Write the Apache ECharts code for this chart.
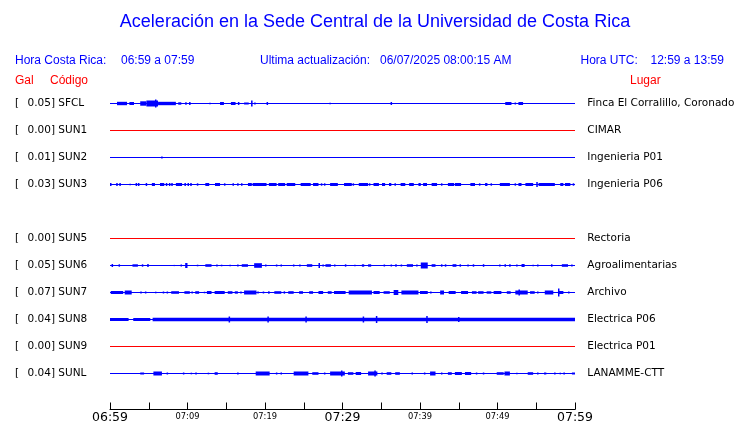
<!DOCTYPE html>
<html><head><meta charset="utf-8">
<script src="https://cdn.jsdelivr.net/npm/echarts@6/dist/echarts.min.js"></script>
<style>html,body{margin:0;padding:0;background:#fff}#c{width:740px;height:423px}</style>
</head><body><div id="c"></div>
<script>
// ---- data ----
const codes   = ['SFCL','SUN1','SUN2','SUN3','SUN5','SUN6','SUN7','SUN8','SUN9','SUNL'];
const places  = ['Finca El Corralillo, Coronado','CIMAR','Ingenieria P01','Ingenieria P06','Rectoria',
                 'Agroalimentarias','Archivo','Electrica P06','Electrica P01','LANAMME-CTT'];
const galPeak = [0.05,0.00,0.01,0.03,0.00,0.05,0.07,0.04,0.00,0.04];
const rowSlot = [0,1,2,3,5,6,7,8,9,10];           // SUN4 slot empty
const tickLabels = ['06:59','07:04','07:09','07:14','07:19','07:24','07:29','07:34','07:39','07:44','07:49','07:54','07:59'];
// minutes since 06:59 : [start, end, half-amplitude (trace units)]
const evSFCL = [[0.9,2.2,1.7],[2.5,3.1,1.5],[3.9,4.7,2.2],[4.7,6.2,3],[5.9,5.9,4],[6.2,8.5,1.7],[8.8,9.2,1.2],[9.7,9.9,1.2],[10.3,10.3,1.5],[12.9,12.9,0.7],[14.2,14.7,1.5],[15.6,16.2,1.5],[16.6,16.6,1.5],[17.3,17.9,1],[18.2,18.4,3],[18.7,18.7,1],[20.3,20.3,1.5],[28.4,28.4,0.7],[36.3,36.3,1.5],[51.0,51.8,1.5],[52.3,52.3,1],[52.7,53.3,1.5]];
const evSUN1 = [];
const evSUN2 = [[6.7,6.7,1]];
const evSUN3 = [[0.1,0.1,1.5],[0.9,0.9,1.5],[1.3,1.3,1.5],[2.6,2.6,0.8],[3.4,3.4,1.5],[3.7,3.7,1.5],[4.7,4.7,1.5],[5.4,5.8,1.5],[6.45,7.0,1.5],[7.3,7.3,1.5],[7.7,7.7,1.5],[8.0,8.0,1.5],[8.5,9.3,1.5],[9.7,9.7,1.5],[10.1,10.1,1.5],[10.45,10.45,1.5],[11.3,11.3,1.2],[12.3,12.8,1.5],[13.55,14.2,1.5],[14.8,14.8,1.2],[15.9,15.9,1.2],[16.5,16.5,1.2],[17.0,17.0,1.2],[17.8,18.3,1.5],[18.4,20.2,1.5],[20.5,21.5,1.5],[21.7,22.6,1.5],[22.8,23.9,1.5],[24.6,25.9,1.5],[26.2,26.9,1.5],[27.3,27.3,1.2],[27.7,27.7,1.2],[28.4,29.4,1.5],[30.2,31.2,1.5],[31.4,31.4,1.2],[32.1,33.3,1.5],[33.5,33.5,1.2],[34.0,34.7,1.5],[35.1,35.5,1.5],[36.0,36.3,1.5],[36.8,36.8,1.2],[37.5,38.1,1.5],[38.6,39.2,1.5],[39.8,40.1,1.5],[40.4,40.9,1.5],[41.5,42.2,1.5],[42.8,42.8,1.2],[43.6,44.4,1.5],[44.5,45.3,1.5],[46.5,47.1,1.5],[47.7,47.7,1.2],[48.4,48.7,1.5],[49.2,49.2,1.2],[50.3,51.6,1.5],[52.3,52.3,1.2],[52.7,53.1,1.5],[53.6,54.6,1.5],[55.1,55.1,2.5],[55.3,57.4,1.5],[58.1,58.5,1.5],[58.7,59.4,1.5],[59.8,59.8,1.2]];
const evSUN5 = [];
const evSUN6 = [[0.3,0.3,1.5],[1.2,1.2,1.2],[2.9,3.6,1.2],[4.2,4.2,1.2],[4.9,4.9,1.5],[8.3,8.3,0.6],[9.2,9.2,1],[9.7,10.0,2.5],[11.3,11.3,0.8],[12.3,13.1,1.3],[13.8,13.8,1],[14.4,14.4,0.8],[15.5,15.5,0.8],[16.5,16.5,1],[17.0,17.8,1.3],[18.6,19.6,2.3],[20.1,20.1,1],[21.5,21.5,1],[22.1,22.1,1],[23.7,23.7,1],[24.5,24.5,1],[25.4,26.1,1.3],[27.0,27.0,2.5],[27.5,27.5,1],[27.8,28.5,1.3],[29.0,29.0,1],[30.4,30.4,1.2],[31.6,31.6,0.8],[32.5,32.8,1.2],[33.3,33.7,1.2],[35.4,35.4,1],[36.3,36.3,1],[36.9,36.9,1.2],[37.6,37.6,1],[38.3,39.1,1.3],[39.6,39.6,1],[40.1,41.0,3],[41.5,42.0,1.3],[42.8,42.8,1.2],[43.3,43.3,1.2],[44.2,44.7,1.3],[45.2,45.2,1.2],[46.2,46.2,1],[46.9,46.9,1.2],[48.2,48.2,1.3],[50.3,50.3,1],[51.0,51.0,1.3],[51.6,51.6,1.3],[52.5,52.5,1],[53.1,53.5,1.5],[54.6,54.6,0.8],[55.2,55.2,1],[57.0,57.0,1.2],[58.3,59.1,1.3],[59.6,59.6,1]];
const evSUN7 = [[0.1,1.7,1.5],[1.9,2.8,2],[4.0,4.0,1],[4.6,4.6,1],[5.9,5.9,0.8],[6.9,6.9,1],[7.4,7.4,1],[7.9,8.9,1.3],[9.6,10.3,1.3],[10.6,10.6,1],[11.0,11.5,1.3],[12.2,12.2,0.8],[12.5,13.1,1.5],[13.5,14.8,1.5],[15.2,15.8,1.3],[16.1,16.5,1.2],[16.9,16.9,1],[17.3,18.9,2],[19.1,19.1,1],[19.8,19.8,1],[20.5,20.5,1.2],[21.2,22.1,1.3],[22.5,22.5,1.2],[23.0,23.7,1.3],[24.4,24.9,1.3],[25.7,26.2,1.3],[26.9,27.5,1.5],[28.1,28.6,1.3],[28.9,30.4,1.5],[30.8,33.8,2],[34.0,34.8,1.5],[35.3,36.1,1.3],[36.6,37.2,2.5],[37.6,39.8,2],[40.0,41.0,1.5],[41.4,41.4,1],[42.6,43.1,2],[43.7,44.6,1.5],[45.3,46.2,1.5],[46.7,47.3,1.3],[47.5,48.2,1.3],[48.6,49.2,1.2],[49.5,50.5,1.5],[51.2,51.7,1.3],[52.3,53.9,2],[52.8,52.8,3],[54.2,54.8,1.3],[55.2,55.2,1],[56.1,57.2,2],[57.8,58.5,1.5],[57.9,57.9,4],[59.2,59.2,1]];
const evSUN8 = [[0.0,2.4,1.5],[3.0,5.2,1.5],[5.5,60,1.7],[15.4,15.4,3],[20.4,20.4,3],[25.3,25.3,3],[32.7,32.7,3],[34.4,34.4,3.5],[40.9,40.9,3.5],[45.0,45.0,2.5]];
const evSUN9 = [];
const evSUNL = [[3.9,4.4,1],[5.6,6.7,2],[7.4,7.4,1],[9.5,9.5,1],[10.5,10.5,0.8],[11.1,11.1,1],[12.7,12.7,0.8],[13.5,13.9,1.3],[16.5,16.5,1],[18.8,20.6,2],[21.5,21.5,1],[22.1,22.1,1],[23.7,25.6,2],[26.1,26.9,1.3],[27.7,27.7,1],[28.4,30.3,2],[29.9,29.9,3],[30.7,31.4,1.3],[31.7,32.4,1.5],[33.3,34.5,2],[34.2,34.2,3],[35.1,35.1,1],[35.7,36.3,1.3],[36.8,37.4,1.3],[39.0,39.0,1],[40.6,40.6,1],[41.3,42.0,2],[42.8,42.8,1],[43.6,44.1,1.3],[44.5,45.4,1.5],[45.8,46.6,1.5],[47.3,47.3,1],[48.2,48.2,1],[49.9,50.8,1.3],[50.9,51.6,2],[52.5,52.5,0.8],[53.9,54.6,1.3],[55.2,55.2,1],[56.0,56.3,1],[57.4,57.4,1],[58.1,58.1,0.8],[58.5,58.7,1],[59.6,60,1]];
const events = [evSFCL,evSUN1,evSUN2,evSUN3,evSUN5,evSUN6,evSUN7,evSUN8,evSUN9,evSUNL];
const UNITS_PER_ROW = 27;

// ---- chart ----
const BLUE = '#0000ff', RED = '#ff0000';
const chart = echarts.init(document.getElementById('c'), null, {renderer:'canvas'});
const series = [];
codes.forEach((c, i) => {
  const col = galPeak[i] === 0 ? RED : BLUE;
  series.push({
    type:'line', name:c, data:[[0,rowSlot[i]],[60,rowSlot[i]]], symbol:'none', silent:true,
    lineStyle:{color:col, width:1}, animation:false, z:2
  });
  if (events[i].length) {
    series.push({
      type:'custom', name:c+'-ev', animation:false, silent:true, z:3,
      data: events[i].map(e => [e[0], e[1], e[2], rowSlot[i]]),
      encode:{x:[0,1], y:3},
      renderItem:(params, api) => {
        const t0 = api.value(0), t1 = api.value(1), a = api.value(2), r = api.value(3);
        const p0 = api.coord([t0, r - a/UNITS_PER_ROW]);
        const p1 = api.coord([t1, r + a/UNITS_PER_ROW]);
        let x = Math.min(p0[0], p1[0]), w = Math.abs(p1[0]-p0[0]);
        if (w < 1.5) { x = (p0[0]+p1[0])/2 - 0.75; w = 1.5; }
        const y = Math.min(p0[1], p1[1]), h = Math.abs(p1[1]-p0[1]);
        return {type:'rect', shape:{x:x, y:y, width:w, height:h}, style:{fill:col}};
      }
    });
  }
});

const option = {
  animation:false,
  backgroundColor:'#fff',
  grid:{left:110, right:165, top:90, bottom:13.5, outerBoundsMode:'none', containLabel:false},
  xAxis:{
    type:'value', min:0, max:60, interval:5, position:'bottom',
    axisLine:{show:true, onZero:false, lineStyle:{color:'#000', width:1}},
    axisTick:{show:true, inside:true, length:7, lineStyle:{color:'#000', width:1}},
    splitLine:{show:false},
    axisLabel:{
      show:true, margin:1, showMinLabel:true, showMaxLabel:true, hideOverlap:false,
      formatter:(v) => {
        const k = Math.round(v/5);
        if (k % 2) return '';
        return (k % 6 === 0 ? '{b|' : '{s|') + tickLabels[k] + '}';
      },
      rich:{
        b:{fontFamily:'DejaVu Sans', fontSize:12.5, color:'#000', lineHeight:14},
        s:{fontFamily:'DejaVu Sans', fontSize:8.3, color:'#000', lineHeight:12}
      }
    }
  },
  yAxis:{type:'value', min:-0.5, max:11.3333, inverse:true, show:false},
  series: series
};
chart.setOption(option);

// ---- text ----
const HF = 'Liberation Sans';
const g = [];
function txt(x, y, s, o) {
  g.push(Object.assign({type:'text', x:x, y:y, silent:true,
    style:Object.assign({text:s, fill:'#000', font:'11px DejaVu Sans', textAlign:'left', textVerticalAlign:'middle'}, o||{})}));
}
txt(375, 22, 'Aceleración en la Sede Central de la Universidad de Costa Rica', {fill:BLUE, font:'18px '+HF, textAlign:'center'});
txt(15, 61, 'Hora Costa Rica:', {fill:BLUE, font:'12px '+HF});
txt(121, 61, '06:59 a 07:59', {fill:BLUE, font:'12px '+HF});
txt(260, 61, 'Ultima actualización:', {fill:BLUE, font:'12px '+HF});
txt(380, 61, '06/07/2025 08:00:15 AM', {fill:BLUE, font:'12px '+HF});
txt(580.5, 61, 'Hora UTC:', {fill:BLUE, font:'12px '+HF});
txt(650.5, 61, '12:59 a 13:59', {fill:BLUE, font:'12px '+HF});
txt(15, 80.5, 'Gal', {fill:RED, font:'12px '+HF});
txt(50, 80.5, 'Código', {fill:RED, font:'12px '+HF});
txt(630, 80.5, 'Lugar', {fill:RED, font:'12px '+HF});

codes.forEach((c, i) => {
  const y = chart.convertToPixel({gridIndex:0}, [0, rowSlot[i]])[1];
  const f = '10.5px DejaVu Sans';
  txt(15, y, '[', {font:f});
  txt(55, y, galPeak[i].toFixed(2) + ']', {font:f, textAlign:'right'});
  txt(58.3, y, c, {font:f});
  txt(587.3, y, places[i], {font:f});
});
chart.setOption({graphic:g});
</script></body></html>
